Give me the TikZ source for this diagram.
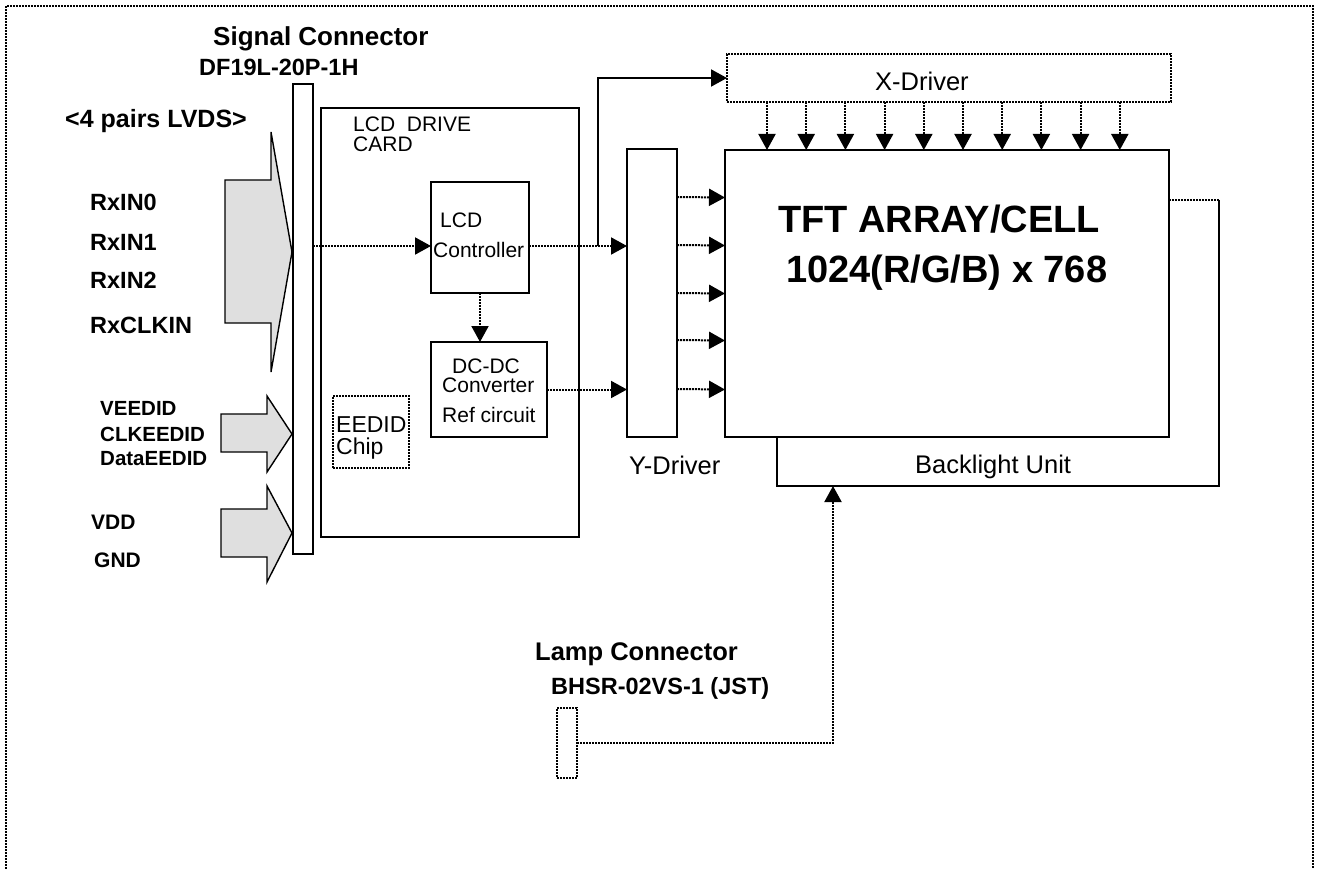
\documentclass[tikz,border=0pt]{standalone}
\usepackage{fontspec}
\setmainfont{Liberation Sans}
\usetikzlibrary{arrows.meta}

\tikzset{
  box/.style={draw, line width=2pt, inner sep=0pt, outer sep=0pt},
  dbox/.style={box, dash pattern=on 2pt off 1pt},
  sig/.style={line width=2pt, dash pattern=on 2pt off 1pt, -{Triangle[length=16pt,width=17pt]}},
  pwr/.style={line width=2pt, -{Triangle[length=16pt,width=17pt]}},
  bigarrow/.style={draw, line width=1.4pt, fill=gray!25, line join=miter},
  frame/.style={line width=1.6pt, dash pattern=on 1.6pt off 1.4pt},
  tag/.style={inner sep=0pt, anchor=base west, font=\bfseries\fontsize{23.5}{28}\selectfont},
  plain/.style={inner sep=0pt, anchor=base west, font=\fontsize{21}{25}\selectfont},
}

\begin{document}
\begin{tikzpicture}[x=1pt,y=-1pt]
  \useasboundingbox (0,0) rectangle (1317,869);
  % outer frame, open at the bottom
  \draw[frame] (6,869) -- (6,6) -- (1313,6) -- (1313,869);

  % input arrows
  \filldraw[bigarrow] (225,180) -- (271,180) -- (271,132) -- (292,252) -- (271,372) -- (271,323) -- (225,323) -- cycle;
  \filldraw[bigarrow] (221,414) -- (267,414) -- (267,396) -- (292,434) -- (267,472) -- (267,452) -- (221,452) -- cycle;
  \filldraw[bigarrow] (221,509) -- (267,509) -- (267,486) -- (292,533) -- (267,582) -- (267,557) -- (221,557) -- cycle;

  % boxes
  \node[box, minimum width=20pt, minimum height=470pt] (conn) at (303,319) {};
  \node[box, minimum width=258pt, minimum height=429pt] (card) at (450,322.5) {};
  \node[box, minimum width=98pt, minimum height=111pt] (ctrl) at (480,237.5) {};
  \node[box, minimum width=116pt, minimum height=95pt] (dcdc) at (489,389.5) {};
  \node[dbox, minimum width=76pt, minimum height=72pt] (eedid) at (371,432) {};
  \node[box, minimum width=50pt, minimum height=288pt] (ydrv) at (652,293) {};
  \node[dbox, minimum width=444pt, minimum height=48pt] (xdrv) at (949,78) {};
  \node[box, minimum width=444pt, minimum height=287pt] (tft) at (947,293.5) {};
  \node[dbox, minimum width=20pt, minimum height=70pt] (lamp) at (567,743) {};

  % backlight unit behind the panel
  \coordinate (blt) at (1219,200);
  \coordinate (blb) at (1219,486);
  \coordinate (bll) at (777,486);
  \draw[line width=2pt] (tft.south -| bll) -- (bll) -- (blb) -- (blt);
  \draw[line width=2pt, dash pattern=on 2pt off 1pt] (tft.east |- blt) -- (blt);

  % labels
  \node[tag, font=\bfseries\fontsize{26}{30}\selectfont] (sigttl) at (213,46) {Signal Connector};
  \node[tag] (sigpn) at (199,76) {DF19L-20P-1H};
  \node[tag, font=\bfseries\fontsize{25}{30}\selectfont] (lvds) at (65,128) {<4 pairs LVDS>};
  \node[tag] (rx0) at (90,211) {RxIN0};
  \node[tag] (rx1) at (90,251) {RxIN1};
  \node[tag] (rx2) at (90,288) {RxIN2};
  \node[tag] (rxclk) at (90,333) {RxCLKIN};
  \node[tag, font=\bfseries\fontsize{20.5}{24}\selectfont] (veedid) at (100,415) {VEEDID};
  \node[tag, font=\bfseries\fontsize{20.5}{24}\selectfont] (clkeedid) at (100,441.5) {CLKEEDID};
  \node[tag, font=\bfseries\fontsize{20.5}{24}\selectfont] (dataeedid) at (100,465) {DataEEDID};
  \node[tag, font=\bfseries\fontsize{21}{25}\selectfont] (vdd) at (91,529) {VDD};
  \node[tag, font=\bfseries\fontsize{21}{25}\selectfont] (gnd) at (94,567) {GND};

  \node[plain] (cardA) at (353,132) {LCD\ \ DRIVE};
  \node[plain] (cardB) at (353,152) {CARD};
  \node[plain] (ctrlA) at (440,227) {LCD};
  \node[plain] (ctrlB) at (433,258) {Controller};
  \node[plain] (dcA) at (452,373) {DC-DC};
  \node[plain] (dcB) at (442,392) {Converter};
  \node[plain] (dcC) at (442,422) {Ref circuit};
  \node[plain, font=\fontsize{23}{27}\selectfont] (edA) at (336,432) {EEDID};
  \node[plain, font=\fontsize{23}{27}\selectfont] (edB) at (336,454) {Chip};

  \node[plain, font=\fontsize{25.5}{30}\selectfont] (xlbl) at (875,91) {X-Driver};
  \node[plain, font=\fontsize{25.5}{30}\selectfont] (ylbl) at (629,474) {Y-Driver};
  \node[plain, font=\fontsize{25.5}{30}\selectfont] (bllbl) at (915,473) {Backlight Unit};
  \node[tag, font=\bfseries\fontsize{38}{44}\selectfont] (tftA) at (778,233) {TFT ARRAY/CELL};
  \node[tag, font=\bfseries\fontsize{38}{44}\selectfont] (tftB) at (786,282) {1024(R/G/B) x 768};

  \node[tag, font=\bfseries\fontsize{25.5}{30}\selectfont] (lampA) at (535,660) {Lamp Connector};
  \node[tag] (lampB) at (551,694) {BHSR-02VS-1 (JST)};

  % signal paths
  \coordinate (rx) at (0,246);
  \coordinate (split) at (598,246);
  \draw[sig] (conn.east |- rx) -- (ctrl.west |- rx);
  \draw[sig] (ctrl.east |- rx) -- (ydrv.west |- rx);
  \draw[pwr] (split) |- (xdrv.west);
  \draw[sig] (ctrl.south) -- (ctrl.south |- dcdc.north);
  \draw[sig] (dcdc.east) -- (dcdc.east -| ydrv.west);
  \foreach \dy in {96,48,0,-47,-96}
    \draw[sig] ([yshift=\dy pt]ydrv.east) -- ([yshift=\dy pt]tft.west);
  \foreach \i in {0,...,9}
    \draw[sig] ([xshift=-182pt+\i*39.2pt]xdrv.south) -- ([xshift=-180pt+\i*39.2pt]tft.north);

  % lamp feed
  \coordinate (blin) at (833,486);
  \draw[sig] (lamp.east) -| (blin);
\end{tikzpicture}
\end{document}
